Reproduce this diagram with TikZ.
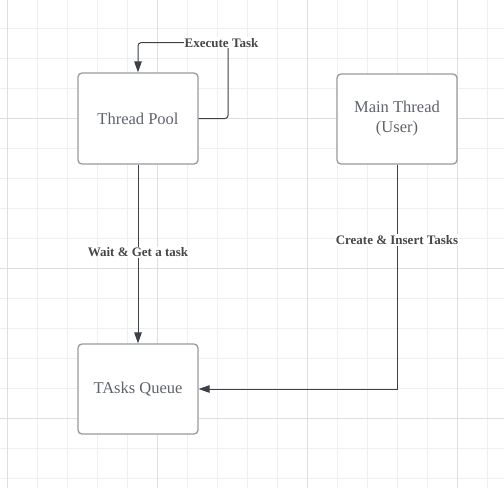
\documentclass[tikz,border=0pt]{standalone}
\usepackage{fontspec}
\setmainfont{Liberation Serif}
\usetikzlibrary{arrows.meta}
\definecolor{gridminor}{HTML}{EFEFEF}
\definecolor{gridmajor}{HTML}{DEDEDE}
\definecolor{boxline}{HTML}{979BA1}
\definecolor{boxtext}{HTML}{5F636A}
\definecolor{connline}{HTML}{3A4149}
\definecolor{lbltext}{HTML}{474747}
\tikzset{
  box/.style={draw=boxline, line width=1.3pt, rounded corners=4pt, fill=white,
    minimum width=120pt, minimum height=90pt, inner sep=0pt, align=center,
    text=boxtext, font=\fontsize{16.5}{20}\selectfont},
  conn/.style={draw=connline, line width=1pt, -{Triangle[length=11pt,width=7.5pt]}},
  lbl/.style={fill=white, inner sep=1pt, text=lbltext, font=\fontsize{13}{15}\selectfont\bfseries}
}
\begin{document}
\begin{tikzpicture}[x=1pt,y=-1pt]
\useasboundingbox (0,0) rectangle (504,488);
\fill[white] (0,0) rectangle (504,488);
% minor grid
\foreach \gx in {7,37,...,487} \draw[gridminor, line width=1pt] (\gx,0) -- (\gx,488);
\foreach \gy in {28,58,...,478} \draw[gridminor, line width=1pt] (0,\gy) -- (504,\gy);
% major grid
\foreach \gx in {7,157,307,457} \draw[gridmajor, line width=1pt] (\gx,0) -- (\gx,488);
\foreach \gy in {118,268,418} \draw[gridmajor, line width=1pt] (0,\gy) -- (504,\gy);
% nodes
\node[box, minimum height=91pt] (tp) at (138,118.5) {Thread Pool};
\node[box] (mt) at (397,119) {Main Thread\\(User)};
\node[box] (tq) at (138,389) {TAsks Queue};
% connectors
\coordinate (ex) at (228,42.7);
\draw[conn, rounded corners=3pt] (tp.east) -| (ex) -| (tp.north);
\node[lbl] (exl) at (221.5,42.7) {Execute Task};
\draw[conn] (tp.south) -- node[lbl, pos=0.49] (wl) {Wait \& Get a task} (tq.north);
\coordinate (cc) at (mt.south |- tq.east);
\draw[conn] (mt.south) -- (cc) -- (tq.east);
\node[lbl] (cl) at (397,240) {Create \& Insert Tasks};
\end{tikzpicture}
\end{document}
